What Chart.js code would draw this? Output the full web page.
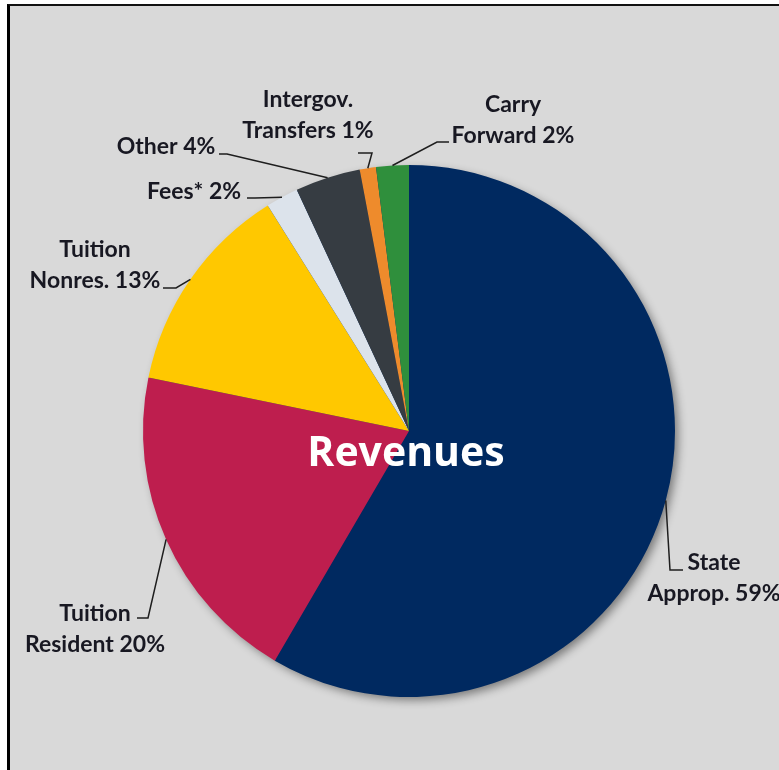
<!DOCTYPE html>
<html>
<head>
<meta charset="utf-8">
<title>Revenues</title>
<script src="https://cdn.jsdelivr.net/npm/chart.js@4.4.1/dist/chart.umd.min.js"></script>
<style>
  html, body { margin: 0; padding: 0; background: #fff; }
  body { width: 779px; height: 770px; overflow: hidden; position: relative; }
  .frame {
    position: absolute; left: 7px; top: 4px; right: 0; bottom: 0;
    background: #d9d9d9;
    border-left: 3px solid #000;
    border-top: 2px solid #111;
  }
  #chart-revenues { position: absolute; left: 0; top: 0; }
</style>
</head>
<body>
<div class="frame"></div>
<canvas id="chart-revenues" width="779" height="770"></canvas>

<script>
/* ── Datos ─────────────────────────────────────────── */
const categories = [
  ['State', 'Approp.'],
  ['Tuition', 'Resident'],
  ['Tuition', 'Nonres.'],
  ['Fees*'],
  ['Other'],
  ['Intergov.', 'Transfers'],
  ['Carry', 'Forward']
];
const shares = [59, 20, 13, 2, 4, 1, 2];
const sliceColors = ['#002960', '#BE1E4E', '#FFC800', '#DCE3EB', '#363C42', '#EE8B2C', '#2F8F3C'];

/* ── Posición de etiquetas (relativa al centro del pie) ── */
// elbow: quiebre de la línea guía, end: fin horizontal, text: centro de la 1a línea
const labelLayout = [
  { elbow: [261, 139],   end: [274, 139],   text: [305, 132] },
  { elbow: [-261, 187],  end: [-272, 187],  text: [-314, 183] },
  { elbow: [-233, -143], end: [-246, -143], text: [-314, -181] },
  { elbow: [-154, -233], end: [-162, -233], text: [-215, -239] },
  { elbow: [-182, -277], end: [-190, -277], text: [-243, -284] },
  { elbow: [-37, -278],  end: [-51, -278],  text: [-101, -331] },
  { elbow: [28, -289],   end: [40, -289],   text: [104, -326] }
];

const LABEL_FONT = 'bold 23px Lato';
const LINE_H = 31;

/* ── Sombra del pie ───────────────────────────────── */
const pieShadow = {
  id: 'pieShadow',
  beforeDatasetsDraw(chart) {
    const arc = chart.getDatasetMeta(0).data[0];
    if (!arc) return;
    const { x, y, outerRadius } = arc.getProps(['x', 'y', 'outerRadius'], true);
    const ctx = chart.ctx;
    ctx.save();
    ctx.shadowColor = 'rgba(0,0,0,0.45)';
    ctx.shadowBlur = 10;
    ctx.shadowOffsetX = 4;
    ctx.shadowOffsetY = 4;
    ctx.beginPath();
    ctx.arc(x, y, outerRadius - 1, 0, Math.PI * 2);
    ctx.fillStyle = sliceColors[0];
    ctx.fill();
    ctx.restore();
  }
};

/* ── Etiquetas con líneas guía ────────────────────── */
const leaderLabels = {
  id: 'leaderLabels',
  afterDatasetsDraw(chart) {
    const ctx = chart.ctx;
    const arcs = chart.getDatasetMeta(0).data;
    ctx.save();
    arcs.forEach((arc, i) => {
      const p = arc.getProps(['x', 'y', 'startAngle', 'endAngle', 'outerRadius'], true);
      const mid = (p.startAngle + p.endAngle) / 2;
      const sx = p.x + Math.cos(mid) * p.outerRadius;
      const sy = p.y + Math.sin(mid) * p.outerRadius;
      const L = labelLayout[i];

      ctx.strokeStyle = '#1e1e1e';
      ctx.lineWidth = 1.5;
      ctx.beginPath();
      ctx.moveTo(sx, sy);
      ctx.lineTo(p.x + L.elbow[0], p.y + L.elbow[1]);
      ctx.lineTo(p.x + L.end[0], p.y + L.end[1]);
      ctx.stroke();

      const lines = categories[i].slice();
      lines[lines.length - 1] += ' ' + shares[i] + '%';
      ctx.fillStyle = '#181822';
      ctx.font = LABEL_FONT;
      ctx.textAlign = 'center';
      ctx.textBaseline = 'middle';
      lines.forEach((t, k) => ctx.fillText(t, p.x + L.text[0], p.y + L.text[1] + k * LINE_H));
    });

    // título al centro
    const a = arcs[0].getProps(['x', 'y'], true);
    ctx.fillStyle = '#ffffff';
    ctx.font = 'bold 41px "Open Sans"';
    ctx.textAlign = 'center';
    ctx.textBaseline = 'middle';
    ctx.fillText('Revenues', a.x - 3, a.y + 23);
    ctx.restore();
  }
};

/* ── Chart ─────────────────────────────────────────── */
new Chart(document.getElementById('chart-revenues'), {
  type: 'pie',
  data: {
    labels: categories.map(c => c.join(' ')),
    datasets: [{ data: shares, backgroundColor: sliceColors, borderWidth: 0 }]
  },
  options: {
    responsive: false,
    animation: false,
    layout: { padding: { left: 143, right: 104, top: 165, bottom: 73 } },
    plugins: { legend: { display: false }, tooltip: { enabled: false } }
  },
  plugins: [pieShadow, leaderLabels]
});
</script>
</body>
</html>
